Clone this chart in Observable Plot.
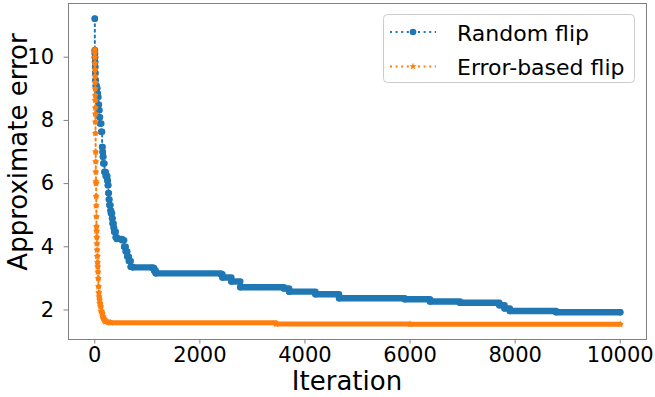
<!DOCTYPE html>
<html><head><meta charset="utf-8">
<script src="https://cdn.jsdelivr.net/npm/d3@7"></script>
<script src="https://cdn.jsdelivr.net/npm/@observablehq/plot@0.6"></script>
<style>
html,body{margin:0;padding:0;background:#fff;}
#chart{width:655px;height:397px;}
</style></head><body><div id="chart"></div>
<script>
// Series: iteration at which the approximate error takes a new value
const randomIter = [0,1,2,4,6,8,10,13,20,38,50,60,70,80,90,100,125,140,150,155,165,185,210,240,250,260,270,280,300,310,330,340,360,370,400,420,520,560,590,620,650,685,720,1100,1130,1160,2400,2430,2600,2770,3600,3700,4200,4650,5900,6380,6950,7700,7800,7900,8780,10000];
const randomErr  = [11.22,10.22,10.12,10.0,9.85,9.7,9.5,9.27,9.1,9.02,8.85,8.74,8.5,8.32,8.1,7.9,7.64,7.16,7.0,6.85,6.64,6.37,6.24,6.1,5.95,5.7,5.5,5.32,5.15,5.06,4.9,4.74,4.6,4.48,4.3,4.25,4.21,4.0,3.85,3.69,3.55,3.37,3.35,3.33,3.25,3.16,3.13,3.03,2.9,2.72,2.68,2.58,2.5,2.37,2.34,2.27,2.23,2.15,2.05,1.97,1.93,1.93];
const errorIter  = [0,1,2,3,4,5,6,7,8,9,10,11,12,14,16,18,20,22,24,26,28,30,32,35,38,41,44,48,52,56,60,65,70,76,82,90,95,110,120,140,150,160,180,200,250,300,3450,6000,10000];
const errorErr   = [10.24,10.15,10.0,9.8,9.6,9.4,9.2,9.0,8.8,8.64,8.4,8.2,7.95,7.59,7.0,6.69,6.37,6.06,6.0,5.6,5.3,4.95,4.64,4.5,4.3,4.1,3.9,3.7,3.5,3.37,3.2,3.0,2.74,2.55,2.42,2.32,2.21,2.1,1.95,1.9,1.8,1.74,1.68,1.63,1.61,1.6,1.56,1.55,1.55];
const seriesNames = ["Random flip","Error-based flip"];
const colors = ["#1f77b4","#ff7f0e"];
const xTicks = [0,2000,4000,6000,8000,10000];
const yTicks = [2,4,6,8,10];
const xLabel = "Iteration";
const yLabel = "Approximate error";

function pts(iters, vals){ return iters.map((x,i)=>({x, y: vals[i]})); }
function segs(iters, vals){ const s=[]; for(let i=0;i<iters.length-1;i++) s.push({x1:iters[i], x2:iters[i+1], y:vals[i]}); return s; }

const rnd = pts(randomIter, randomErr), err = pts(errorIter, errorErr);
const rndSeg = segs(randomIter, randomErr), errSeg = segs(errorIter, errorErr);
const font = "DejaVu Sans";
const gray = "#808080";

const plot = Plot.plot({
  width:655, height:397,
  marginLeft:68, marginRight:9, marginTop:3, marginBottom:58,
  style:{fontFamily:font, background:"#fff", color:"#000", overflow:"visible"},
  x:{domain:[-500,10500]},
  y:{domain:[1.066,11.70]},
  marks:[
    Plot.axisX({ticks:xTicks, tickFormat:d=>String(d), tickSize:4.5, tickPadding:3, fontSize:21, label:null, stroke:gray, fill:"#000"}),
    Plot.axisY({ticks:yTicks, tickFormat:d=>String(d), tickSize:4.5, tickPadding:10, fontSize:21, label:null, stroke:gray, fill:"#000"}),
    // Random flip
    Plot.line(rnd, {x:"x", y:"y", curve:"step-after", stroke:colors[0], strokeWidth:2, strokeDasharray:"2,3.6"}),
    Plot.link(rndSeg, {x1:"x1", x2:"x2", y1:"y", y2:"y", stroke:colors[0], strokeWidth:6.4, strokeLinecap:"round"}),
    Plot.dot(rnd, {x:"x", y:"y", r:3.3, fill:colors[0], stroke:null}),
    // Error-based flip
    Plot.line(err, {x:"x", y:"y", curve:"step-after", stroke:colors[1], strokeWidth:2, strokeDasharray:"2,3.6"}),
    Plot.link(errSeg, {x1:"x1", x2:"x2", y1:"y", y2:"y", stroke:colors[1], strokeWidth:5, strokeLinecap:"round"}),
    Plot.dot(err, {x:"x", y:"y", r:2.4, symbol:"star", fill:colors[1], stroke:null}),
    Plot.frame({stroke:gray, strokeWidth:1})
  ]
});
document.getElementById("chart").appendChild(plot);

const svg = d3.select(plot);
// Axis labels
svg.append("text").attr("x",347).attr("y",390).attr("text-anchor","middle")
  .attr("font-family",font).attr("font-size",26).attr("fill","#000").text(xLabel);
svg.append("text").attr("transform","translate(27,152) rotate(-90)").attr("text-anchor","middle")
  .attr("font-family",font).attr("font-size",26).attr("fill","#000").text(yLabel);

// Legend
const lg = svg.append("g").attr("font-family", font).attr("text-anchor","start");
lg.append("rect").attr("x",383.5).attr("y",14.5).attr("width",251).attr("height",68)
  .attr("rx",4).attr("fill","#fff").attr("fill-opacity",0.8).attr("stroke","#cccccc");
const rows = [32, 66.5];
seriesNames.forEach((name,i)=>{
  const y = rows[i];
  lg.append("line").attr("x1",390).attr("x2",436).attr("y1",y).attr("y2",y)
    .attr("stroke",colors[i]).attr("stroke-width",2).attr("stroke-dasharray","2,3.6");
  if(i===0){
    lg.append("circle").attr("cx",413).attr("cy",y).attr("r",3.3).attr("fill",colors[i]);
  } else {
    lg.append("path").attr("d", d3.symbol(d3.symbolStar, Math.PI*2.4*2.4)())
      .attr("transform",`translate(413,${y})`).attr("fill",colors[i]);
  }
  lg.append("text").attr("x",457).attr("y",y+8.5).attr("font-size",22).attr("fill","#000").text(name);
});
</script>
</body></html>
